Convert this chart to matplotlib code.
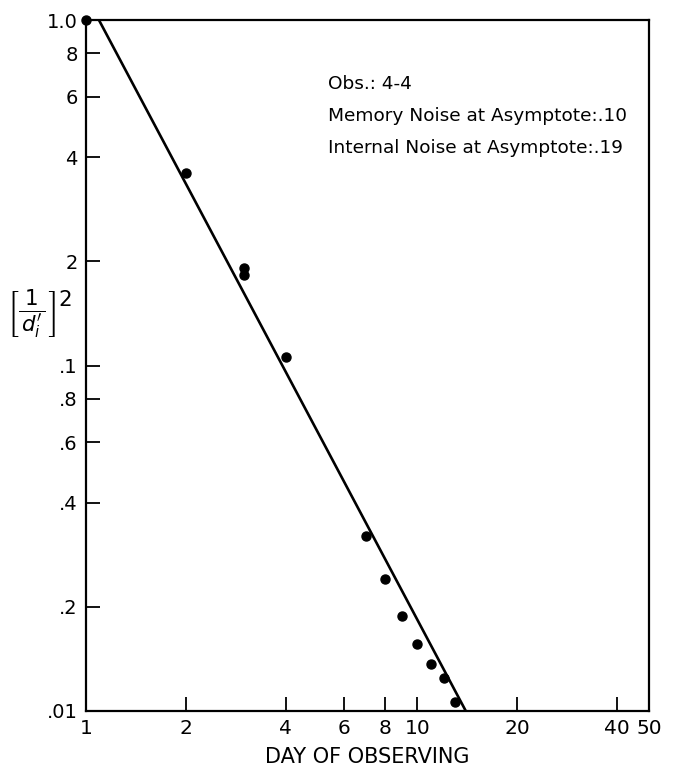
import matplotlib
matplotlib.use("Agg")
import matplotlib.pyplot as plt
from matplotlib.ticker import FixedLocator, FixedFormatter, NullLocator

# observed points: day vs (1/d')^2
days = [1, 2, 3, 3, 4, 7, 8, 9, 10, 11, 12, 13]
inv_d2 = [1.0, 0.36, 0.191, 0.183, 0.106, 0.032, 0.0241, 0.0188, 0.0156, 0.0137, 0.0125, 0.0106]

# fitted power-law line end points
fit_days = [1.094, 14.0]
fit_vals = [1.0, 0.01]

x_ticks = [1, 2, 4, 6, 8, 10, 20, 40, 50]
x_labels = ["1", "2", "4", "6", "8", "10", "20", "40", "50"]
y_ticks = [1.0, 0.8, 0.6, 0.4, 0.2, 0.1, 0.08, 0.06, 0.04, 0.02, 0.01]
y_labels = ["1.0", "8", "6", "4", "2", ".1", ".8", ".6", ".4", ".2", ".01"]

notes = ["Obs.: 4-4",
         "Memory Noise at Asymptote:.10",
         "Internal Noise at Asymptote:.19"]

plt.rcParams["font.family"] = ["DejaVu Sans"]

fig = plt.figure(figsize=(6.8, 7.74), dpi=100)
ax = fig.add_axes([86 / 680, 1 - 711 / 774, (649 - 86) / 680, (711 - 20) / 774])

ax.plot(fit_days, fit_vals, color="black", lw=1.9, solid_capstyle="butt")
ax.plot(days, inv_d2, "o", color="black", ms=6.5, clip_on=False)

ax.set_xscale("log")
ax.set_yscale("log")
ax.set_xlim(1, 50)
ax.set_ylim(0.01, 1.0)

ax.xaxis.set_major_locator(FixedLocator(x_ticks))
ax.xaxis.set_major_formatter(FixedFormatter(x_labels))
ax.yaxis.set_major_locator(FixedLocator(y_ticks))
ax.yaxis.set_major_formatter(FixedFormatter(y_labels))
ax.xaxis.set_minor_locator(NullLocator())
ax.yaxis.set_minor_locator(NullLocator())

ax.tick_params(axis="both", direction="in", length=10, width=1.3, pad=6)
ax.tick_params(axis="x", labelsize=14.5)
ax.tick_params(axis="y", labelsize=14)
for s in ax.spines.values():
    s.set_linewidth(1.6)

ax.set_xlabel("DAY OF OBSERVING", fontsize=15, labelpad=6)

fig.text(40 / 680, 1 - 314 / 774, r"$\left[\frac{\;1\;}{d_i^{\prime}}\right]^2$",
         fontsize=22, ha="center", va="center")

for i, t in enumerate(notes):
    fig.text(328 / 680, 1 - (84 + 32 * i) / 774, t, fontsize=13.3, ha="left", va="center")

fig.savefig("out.png", dpi=100)
